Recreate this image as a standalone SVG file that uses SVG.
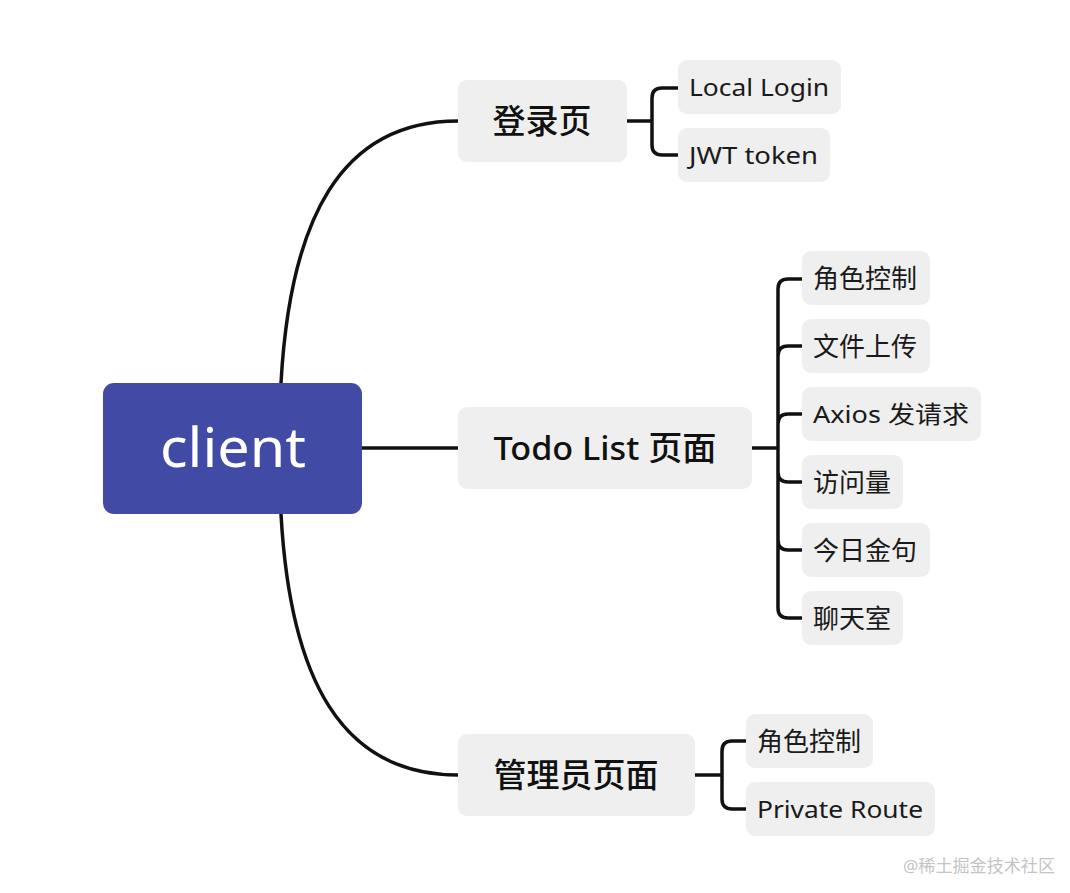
<svg xmlns="http://www.w3.org/2000/svg" width="1070" height="893" viewBox="0 0 1070 893">
<style>
.ln{fill:none;stroke:#111;stroke-width:3.5;stroke-linecap:round;stroke-linejoin:round}
.bx{fill:#efefef}
.t1{font-family:"Noto Sans","Noto Sans CJK SC",sans-serif;font-size:33px;font-weight:500;fill:#111;text-anchor:middle}
.t2{font-family:"Noto Sans","Noto Sans CJK SC",sans-serif;font-size:24px;fill:#1a1a1a}
.cj{font-size:26px}
</style>
<rect width="1070" height="893" fill="#fff"/>
<g id="connectors">
<path class="ln" d="M281,383 C290,220 340,121 458,121"/>
<path class="ln" d="M281,514 C290,677 340,775 458,775"/>
<path class="ln" d="M362,448 H458"/>
<path class="ln" d="M627,121 H652 M678,88 H662 Q652,88 652,98 V145 Q652,155 662,155 H678"/>
<path class="ln" d="M752,448 H778 M802,279 H788 Q778,279 778,289 V608 Q778,618 788,618 H802 M802,346 H788 Q778,346 778,356 M802,414 H788 Q778,414 778,424 M802,482 H788 Q778,482 778,472 M802,550 H788 Q778,550 778,540"/>
<path class="ln" d="M695,775 H722 M746,741 H732 Q722,741 722,751 V799 Q722,809 732,809 H746"/>
</g>
<g id="client"><rect x="103" y="383" width="259" height="131" rx="11" fill="#414ba5"/><text x="233" y="467" font-family="'Noto Sans',sans-serif" font-size="54" fill="#fff" text-anchor="middle" textLength="146" lengthAdjust="spacingAndGlyphs">client</text></g>
<g id="login"><rect class="bx" x="458" y="80" width="169" height="82" rx="9"/><text class="t1" x="542" y="133">登录页</text></g>
<g id="local-login"><rect class="bx" x="678" y="60" width="163" height="54" rx="9"/><text class="t2" x="689" y="96" textLength="140" lengthAdjust="spacingAndGlyphs">Local Login</text></g>
<g id="jwt"><rect class="bx" x="678" y="128" width="152" height="54" rx="9"/><text class="t2" x="689" y="164" textLength="129" lengthAdjust="spacingAndGlyphs">JWT token</text></g>
<g id="todo"><rect class="bx" x="458" y="407" width="294" height="82" rx="9"/><text class="t1" x="605" y="460" textLength="223" lengthAdjust="spacingAndGlyphs">Todo List 页面</text></g>
<g id="todo-1"><rect class="bx" x="802" y="251" width="128" height="54" rx="9"/><text class="t2 cj" x="813" y="288">角色控制</text></g>
<g id="todo-2"><rect class="bx" x="802" y="319" width="128" height="54" rx="9"/><text class="t2 cj" x="813" y="356">文件上传</text></g>
<g id="todo-3"><rect class="bx" x="802" y="387" width="179" height="54" rx="9"/><text class="t2" x="813" y="423" textLength="156" lengthAdjust="spacingAndGlyphs">Axios 发请求</text></g>
<g id="todo-4"><rect class="bx" x="802" y="455" width="101" height="54" rx="9"/><text class="t2 cj" x="813" y="492">访问量</text></g>
<g id="todo-5"><rect class="bx" x="802" y="523" width="128" height="54" rx="9"/><text class="t2 cj" x="813" y="560">今日金句</text></g>
<g id="todo-6"><rect class="bx" x="802" y="591" width="101" height="54" rx="9"/><text class="t2 cj" x="813" y="628">聊天室</text></g>
<g id="admin"><rect class="bx" x="458" y="734" width="237" height="82" rx="9"/><text class="t1" x="576" y="787">管理员页面</text></g>
<g id="admin-1"><rect class="bx" x="746" y="714" width="127" height="54" rx="9"/><text class="t2 cj" x="757" y="751">角色控制</text></g>
<g id="admin-2"><rect class="bx" x="746" y="782" width="189" height="54" rx="9"/><text class="t2" x="757" y="818" textLength="166" lengthAdjust="spacingAndGlyphs">Private Route</text></g>
<text x="903" y="872" font-family="'Noto Sans','Noto Sans CJK SC',sans-serif" font-size="17" fill="#c4c4c4" textLength="152" lengthAdjust="spacingAndGlyphs">@稀土掘金技术社区</text>
</svg>
